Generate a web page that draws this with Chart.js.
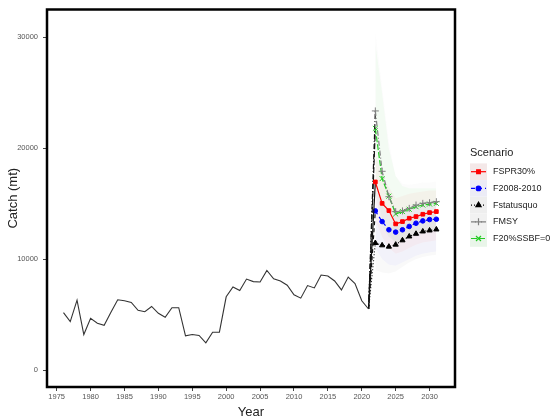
<!DOCTYPE html>
<html>
<head>
<meta charset="utf-8">
<script src="https://cdn.jsdelivr.net/npm/chart.js@4"></script>
<style>
  body { margin: 0; background: #fff; }
  #wrap { position: relative; width: 560px; height: 420px; }
</style>
</head>
<body>
<div id="wrap"><canvas id="myChart" width="560" height="420"></canvas></div>
<script>
// historical catch
let histYears = [1976, 1977, 1978, 1979, 1980, 1981, 1982, 1983, 1984, 1985,
    1986, 1987, 1988, 1989, 1990, 1991, 1992, 1993, 1994, 1995,
    1996, 1997, 1998, 1999, 2000, 2001, 2002, 2003, 2004, 2005,
    2006, 2007, 2008, 2009, 2010, 2011, 2012, 2013, 2014, 2015,
    2016, 2017, 2018, 2019, 2020, 2021]
let histCatch = [5180, 4380, 6310, 3210, 4670, 4230, 4050, 5210, 6340, 6250,
    6100, 5390, 5270, 5740, 5120, 4760, 5630, 5630, 3100, 3210,
    3130, 2470, 3420, 3420, 6610, 7500, 7170, 8210, 7980, 7950,
    8990, 8240, 8040, 7650, 6790, 6490, 7620, 7410, 8570, 8480,
    8040, 7230, 8390, 7800, 6250, 5510]

// projections (first value = last observed year)
let projYears = [2021, 2022, 2023, 2024, 2025, 2026, 2027, 2028, 2029, 2030, 2031]
let fspr30 = [5510, 16960, 15030, 14380, 13180, 13390, 13690, 13840, 14050, 14200, 14290]
let f2008 = [5510, 14350, 13390, 12650, 12440, 12650, 12950, 13240, 13450, 13570, 13600]
let fstatus = [5510, 11460, 11250, 11130, 11310, 11700, 12050, 12290, 12500, 12590, 12680]
let fmsy = [5510, 23360, 17920, 15630, 14290, 14350, 14580, 14880, 15030, 15090, 15180]
let f20ssb = [5510, 21790, 17260, 15680, 14080, 14290, 14500, 14730, 14880, 14970, 15030]

// uncertainty ribbons, 2022-2031
let bandYears = [2022, 2023, 2024, 2025, 2026, 2027, 2028, 2029, 2030, 2031]
let fspr30Hi = [19500, 17500, 16500, 15500, 15700, 15900, 16000, 16100, 16200, 16200]
let fspr30Lo = [13500, 12000, 11000, 10500, 10700, 11000, 11300, 11500, 11600, 11700]
let f2008Hi = [16500, 15500, 14500, 14200, 14400, 14700, 15000, 15200, 15300, 15300]
let f2008Lo = [11000, 10000, 9500, 9400, 9700, 10000, 10300, 10500, 10600, 10700]
let fstatusHi = [13500, 13000, 12800, 13000, 13400, 13800, 14000, 14200, 14300, 14400]
let fstatusLo = [9000, 8800, 8700, 8900, 9300, 9700, 10000, 10200, 10300, 10400]
let fmsyHi = [30500, 25500, 20500, 17500, 16800, 16700, 16800, 16900, 16900, 17000]
let fmsyLo = [17000, 13500, 12300, 11400, 11600, 11800, 12000, 12200, 12300, 12400]
let f20ssbHi = [29500, 25000, 20000, 17500, 16600, 16400, 16400, 16400, 16400, 16400]
let f20ssbLo = [16000, 13000, 12000, 11500, 11700, 12000, 12200, 12400, 12500, 12600]

let xTicks = [1975, 1980, 1985, 1990, 1995, 2000, 2005, 2010, 2015, 2020, 2025, 2030]
let yTicks = [0, 10000, 20000, 30000]

let scenarios = [
    {label: 'FSPR30%', vals: fspr30, hi: fspr30Hi, lo: fspr30Lo, color: '#ff0000', dash: [], pt: 'rect', r: 2.6, band: 'rgba(255,0,0,0.035)', key: '#f4e8e8'},
    {label: 'F2008-2010', vals: f2008, hi: f2008Hi, lo: f2008Lo, color: '#0000ff', dash: [4, 3], pt: 'circle', r: 2.3, band: 'rgba(0,0,255,0.03)', key: '#ececf6'},
    {label: 'Fstatusquo', vals: fstatus, hi: fstatusHi, lo: fstatusLo, color: '#000000', dash: [1, 2], pt: 'triangle', r: 3, band: 'rgba(0,0,0,0.025)', key: '#eeeeee'},
    {label: 'FMSY', vals: fmsy, hi: fmsyHi, lo: fmsyLo, color: '#808080', dash: [5, 2, 1, 2], pt: 'cross', r: 3.5, band: 'rgba(120,120,120,0.02)', key: '#f1f1f1'},
    {label: 'F20%SSBF=0', vals: f20ssb, hi: f20ssbHi, lo: f20ssbLo, color: '#22cc22', dash: [6, 2], pt: 'crossRot', r: 3.5, band: 'rgba(0,220,0,0.04)', key: '#e9f5e9'}
]

function pts(xs, ys) {
    return xs.map((x, i) => ({x: x, y: ys[i]}))
}

let datasets = []
datasets.push({
    label: 'hist', data: pts(histYears, histCatch),
    borderColor: '#333333', borderWidth: 1.1, pointRadius: 0, fill: false, order: 0
})
scenarios.forEach(s => {
    datasets.push({
        label: s.label, data: pts(projYears, s.vals),
        borderColor: s.color, backgroundColor: s.color, borderWidth: 1.2,
        borderDash: s.dash,
        segment: {borderColor: c => c.p0DataIndex === 0 ? '#111111' : s.color},
        pointStyle: s.pt,
        pointRadius: c => c.dataIndex === 0 ? 0 : s.r,
        pointBorderColor: s.color, pointBackgroundColor: s.color,
        pointBorderWidth: 1, fill: false, order: 1
    })
})
scenarios.forEach(s => {
    datasets.push({
        label: s.label + ' hi', data: pts(bandYears, s.hi),
        borderWidth: 0, pointRadius: 0, backgroundColor: s.band, fill: '+1', order: 5
    })
    datasets.push({
        label: s.label + ' lo', data: pts(bandYears, s.lo),
        borderWidth: 0, pointRadius: 0, fill: false, order: 5
    })
})

// thick panel border + legend
const frame = {
    id: 'frame',
    afterDraw(chart) {
        const {ctx, chartArea: a} = chart
        ctx.save()
        ctx.strokeStyle = '#000'
        ctx.lineWidth = 2.5
        ctx.strokeRect(a.left, a.top, a.right - a.left, a.bottom - a.top)

        let lx = 470, ly = 153
        ctx.fillStyle = '#222'
        ctx.font = '11px "Liberation Sans", Arial, sans-serif'
        ctx.textBaseline = 'middle'
        ctx.textAlign = 'left'
        ctx.fillText('Scenario', lx, ly)
        scenarios.forEach((s, i) => {
            let cy = 171.7 + i * 16.7
            ctx.fillStyle = s.key
            ctx.fillRect(lx, cy - 8.3, 17, 16.6)
            ctx.strokeStyle = s.color
            ctx.lineWidth = 1.2
            ctx.setLineDash(s.dash)
            ctx.beginPath()
            ctx.moveTo(lx + 1, cy)
            ctx.lineTo(lx + 16, cy)
            ctx.stroke()
            ctx.setLineDash([])
            ctx.fillStyle = s.color
            ctx.strokeStyle = s.color
            Chart.helpers.drawPoint(ctx, {pointStyle: s.pt, radius: s.r, borderWidth: 1}, lx + 8.5, cy)
            ctx.fillStyle = '#222'
            ctx.font = '9px "Liberation Sans", Arial, sans-serif'
            ctx.fillText(s.label, 493, cy)
        })
        ctx.restore()
    }
}

const tickFont = {family: '"Liberation Sans", Arial, sans-serif', size: 7.5}
const titleFont = {family: '"Liberation Sans", Arial, sans-serif', size: 13}

let options = {
    responsive: false,
    animation: false,
    layout: {padding: {left: 0, top: 6, right: 105, bottom: 0}},
    plugins: {legend: {display: false}, tooltip: {enabled: false}},
    scales: {
        x: {
            type: 'linear', min: 1973.57, max: 2033.75,
            afterBuildTicks: sc => { sc.ticks = xTicks.map(v => ({value: v})) },
            afterFit: sc => { sc.height = 33 },
            grid: {drawOnChartArea: false, drawTicks: true, tickLength: 4, color: '#444'},
            border: {display: false},
            ticks: {font: tickFont, color: '#555', padding: 1, maxRotation: 0, callback: v => String(v)},
            title: {display: true, text: 'Year', font: titleFont, color: '#222', padding: {top: 3, bottom: 0}}
        },
        y: {
            type: 'linear', min: -1517, max: 32500,
            afterBuildTicks: sc => { sc.ticks = yTicks.map(v => ({value: v})) },
            afterFit: sc => { sc.width = 47 },
            grid: {drawOnChartArea: false, drawTicks: true, tickLength: 4, color: '#444'},
            border: {display: false},
            ticks: {font: tickFont, color: '#555', padding: 5, callback: v => String(v)},
            title: {display: true, text: 'Catch (mt)', font: titleFont, color: '#222', padding: {top: 6, bottom: 0}}
        }
    }
}

const ctx = document.getElementById('myChart')
let myChart = new Chart(ctx, {type: 'line', data: {datasets: datasets}, options: options, plugins: [frame]})
</script>
</body>
</html>
